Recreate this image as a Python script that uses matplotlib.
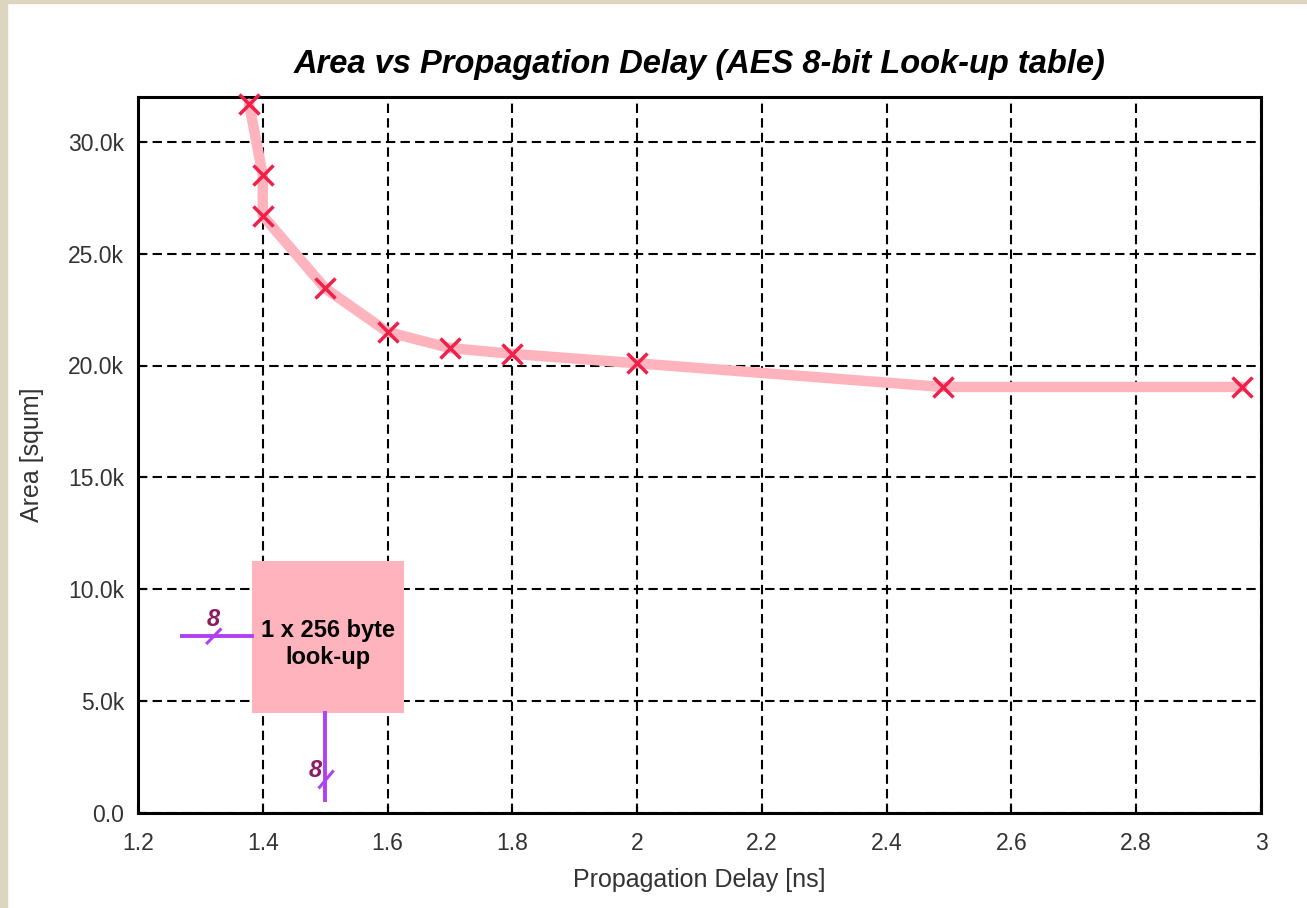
import matplotlib
matplotlib.use("Agg")
import matplotlib.pyplot as plt
from matplotlib.patches import Rectangle

delay_ns = [1.378, 1.40, 1.40, 1.50, 1.60, 1.70, 1.80, 2.00, 2.49, 2.97]
area_squm = [31700, 28500, 26700, 23450, 21500, 20780, 20520, 20100, 19040, 19040]

xticks = [1.2, 1.4, 1.6, 1.8, 2.0, 2.2, 2.4, 2.6, 2.8, 3.0]
xticklabels = ["1.2", "1.4", "1.6", "1.8", "2", "2.2", "2.4", "2.6", "2.8", "3"]
yticks = [0, 5000, 10000, 15000, 20000, 25000, 30000]
yticklabels = ["0.0", "5.0k", "10.0k", "15.0k", "20.0k", "25.0k", "30.0k"]

title = "Area vs Propagation Delay (AES 8-bit Look-up table)"
xlabel = "Propagation Delay [ns]"
ylabel = "Area [squm]"
box_text = "1 x 256 byte\nlook-up"
bus_width = "8"

plt.rcParams['font.family'] = ['Liberation Sans', 'DejaVu Sans']

W, H = 1307, 908
fig = plt.figure(figsize=(W / 100, H / 100), dpi=100)
fig.patch.set_facecolor('white')
# beige frame strips
fig.patches.append(Rectangle((0, 0), 7 / W, 1, transform=fig.transFigure, color='#dcd5c0', zorder=-10))
fig.patches.append(Rectangle((0, 1 - 3 / H), 1, 3 / H, transform=fig.transFigure, color='#dcd5c0', zorder=-10))

ax = fig.add_axes([138 / W, 1 - 813 / H, (1261 - 138) / W, (813 - 97) / H])
ax.set_xlim(1.2, 3.0)
ax.set_ylim(0, 32000)

ax.grid(True, color='black', linestyle=(0, (4.5, 2.5)), linewidth=1.5)
ax.set_axisbelow(True)

ax.plot(delay_ns, area_squm, color='#ffb3bd', linewidth=7.5, solid_capstyle='round',
        solid_joinstyle='round', zorder=3)
ax.plot(delay_ns, area_squm, linestyle='none', marker='x', markersize=15,
        markeredgewidth=2.5, color='#f0204a', zorder=4, clip_on=False)

ax.set_xticks(xticks)
ax.set_xticklabels(xticklabels)
ax.set_yticks(yticks)
ax.set_yticklabels(yticklabels)
ax.tick_params(direction='in', length=6, width=1.5, colors='black', labelcolor='#333333',
               labelsize=16.5)
ax.tick_params(axis='x', pad=14)
ax.tick_params(axis='y', pad=10)
for s in ax.spines.values():
    s.set_linewidth(2.2)

ax.set_xlabel(xlabel, fontsize=18, color='#333333', labelpad=9)
ax.set_ylabel(ylabel, fontsize=18, color='#333333', labelpad=17)
ax.set_title(title, fontsize=23.5, fontweight='bold', fontstyle='italic', pad=17)

# Look-up table diagram
bx0, bx1, by0, by1 = 1.383, 1.627, 4470, 11270
ax.add_patch(Rectangle((bx0, by0), bx1 - bx0, by1 - by0, facecolor='#ffb3bd',
                       edgecolor='none', zorder=5))
ax.text((bx0 + bx1) / 2, 7550, box_text, ha='center', va='center', fontsize=17,
        fontweight='bold', color='black', zorder=6, linespacing=1.2)

purple = '#b040f0'
label_col = '#8b1c62'
# input bus
ax.plot([1.27, bx0], [7900, 7900], color=purple, linewidth=2.8, zorder=6)
ax.plot([1.311, 1.332], [7600, 8200], color=purple, linewidth=2.2, zorder=6)
ax.text(1.321, 8650, bus_width, ha='center', va='center', fontsize=17, fontweight='bold',
        fontstyle='italic', color=label_col, zorder=6)
# output bus
ax.plot([1.5, 1.5], [by0, 580], color=purple, linewidth=2.8, zorder=6)
ax.plot([1.491, 1.512], [1150, 1850], color=purple, linewidth=2.2, zorder=6)
ax.text(1.484, 1900, bus_width, ha='center', va='center', fontsize=17, fontweight='bold',
        fontstyle='italic', color=label_col, zorder=6)

fig.savefig("out.png", dpi=100)
